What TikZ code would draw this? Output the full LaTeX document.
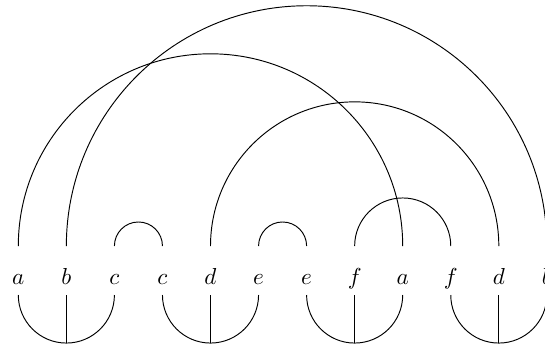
\documentclass[tikz,border=0pt]{standalone}
\begin{document}
\begin{tikzpicture}[x=0.016649cm,y=0.016649cm,
  lbl/.style={anchor=base,inner sep=0pt,font=\fontsize{10.95}{13}\selectfont},
  wire/.style={line width=0.45pt}]
\useasboundingbox (0,0) rectangle (545,344);
\foreach \i/\t in {0/a,1/b,2/c,3/c,4/d,5/e,6/e,7/f,8/a,9/f,10/d,11/b}{
  \pgfmathsetmacro{\xx}{18.3+48.05*\i}
  \node[lbl] (n\i) at (\xx,60) {$\t$};
  \coordinate (t\i) at (\xx,98);
  \coordinate (u\i) at (\xx,49);
}
% arcs above
\draw[wire] (t0) arc[start angle=180,end angle=0,radius=192.2];
\draw[wire] (t1) arc[start angle=180,end angle=0,radius=240.25];
\draw[wire] (t2) arc[start angle=180,end angle=0,radius=24.025];
\draw[wire] (t4) arc[start angle=180,end angle=0,radius=144.15];
\draw[wire] (t5) arc[start angle=180,end angle=0,radius=24.025];
\draw[wire] (t7) arc[start angle=180,end angle=0,radius=48.05];
% arcs below
\foreach \a/\m in {0/1,3/4,6/7,9/10}{
  \draw[wire] (u\a) arc[start angle=180,end angle=360,radius=48.05];
  \draw[wire] (u\m) -- ++(0,-48.05);
}
\end{tikzpicture}
\end{document}
